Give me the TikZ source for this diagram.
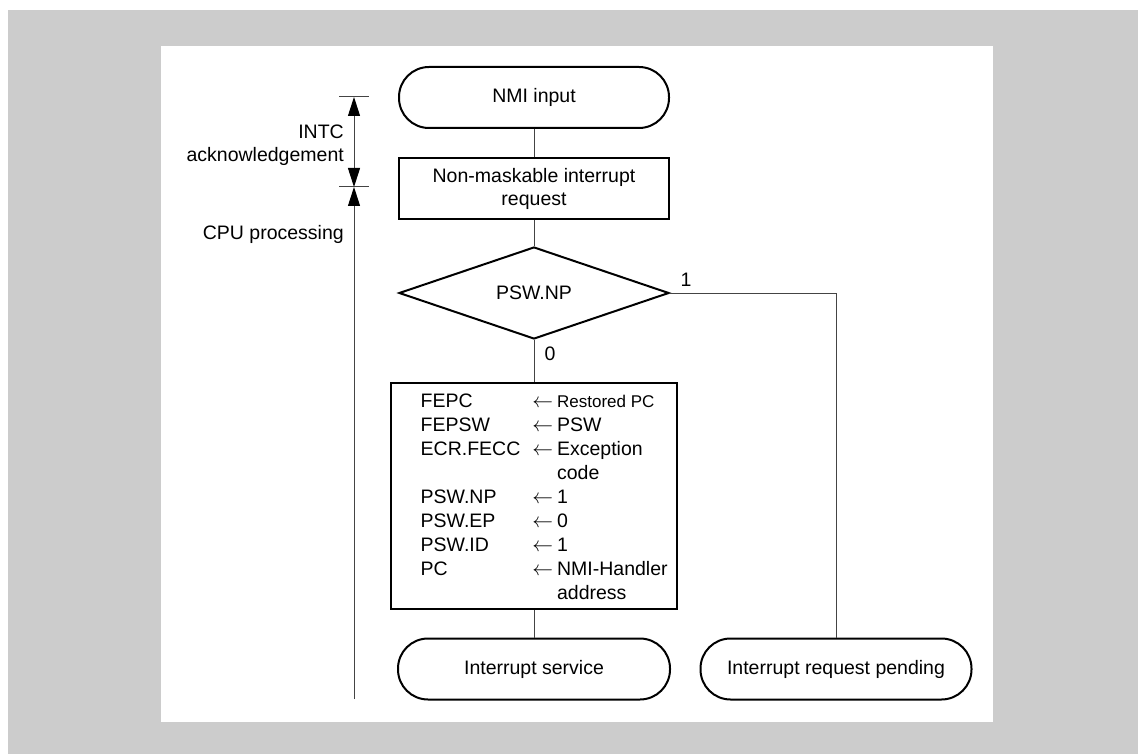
\documentclass[tikz,border=0pt]{standalone}
\usepackage{fontspec}
\setmainfont{Liberation Sans}
\usepackage{tikz}
\usetikzlibrary{arrows.meta,shapes.geometric,calc}
\definecolor{bggray}{HTML}{CCCCCC}
\definecolor{linegray}{HTML}{444444}
\tikzset{bigtip/.tip={Triangle[length=19pt,width=12pt,color=black]}}

\begin{document}
\begin{tikzpicture}[x=1pt,y=-1pt,
  every node/.style={font=\fontsize{19.5}{23}\selectfont},
  term/.style={draw,line width=2pt,rounded corners=30pt,minimum width=270pt,minimum height=61pt,inner sep=0pt},
  procbox/.style={draw,line width=2pt,minimum width=270pt,minimum height=61pt,align=center,inner sep=0pt},
  decide/.style={draw,diamond,line width=2pt,minimum width=270pt,minimum height=92pt,inner sep=0pt},
  flow/.style={draw=linegray,line width=1pt},
  measure/.style={draw=linegray,line width=1pt}
]
\useasboundingbox (0,0) rectangle (1138,754);
\fill[white] (0,0) rectangle (1138,754);
\fill[bggray] (8,10) rectangle (1138,754);
\fill[white] (161,46) rectangle (993,722);

\node[term] (nmi) at (534,97.5) {NMI input};
\node[procbox] (req) at (534,189) {Non-maskable interrupt\\request};
\node[decide] (dec) at (534,293) {PSW.NP};
\node[draw,line width=2pt,minimum width=286pt,minimum height=226pt] (regs) at (534,496) {};
\node[anchor=north west,inner sep=0pt,font=\fontsize{19.5}{24}\selectfont] (regtext) at (420.5,390.2) {%
\begin{tabular}{@{}l@{\hspace{12pt}}c@{\hspace{4pt}}l@{}}
FEPC & $\leftarrow$ & {\fontsize{17}{20}\selectfont Restored PC}\\
FEPSW & $\leftarrow$ & PSW\\
ECR.FECC & $\leftarrow$ & Exception\\
 & & code\\
PSW.NP & $\leftarrow$ & 1\\
PSW.EP & $\leftarrow$ & 0\\
PSW.ID & $\leftarrow$ & 1\\
PC & $\leftarrow$ & NMI-Handler\\
 & & address
\end{tabular}};
\node[term,minimum width=272pt] (svc) at (534,669) {Interrupt service};
\node[term,minimum width=271pt] (pend) at (836,669) {Interrupt request pending};

\node[anchor=base] (lblone) at (686,286) {1};
\node[anchor=base] (lblzero) at (550,360.7) {0};

\draw[flow] (nmi) -- (req);
\draw[flow] (req) -- (dec);
\draw[flow] (dec) -- (regs);
\draw[flow] (regs) -- (svc);
\draw[flow] (dec.east) -| (pend.north);

\coordinate (acktop) at (354,97);
\coordinate (ackbot) at (354,187);
\coordinate (cpubot) at (354,699);
\draw[measure] ($(acktop)+(-15,0)$) -- ($(acktop)+(15,0)$);
\draw[measure] ($(ackbot)+(-15,0)$) -- ($(ackbot)+(15,0)$);
\draw[measure,bigtip-bigtip] (acktop) -- (ackbot);
\draw[measure,-bigtip] (cpubot) -- (ackbot);

\node[anchor=east,align=right,inner sep=0pt] (intc) at (344,145.3) {INTC\\acknowledgement};
\node[anchor=base east,inner sep=0pt] (cpu) at (344,240) {CPU processing};
\end{tikzpicture}
\end{document}
